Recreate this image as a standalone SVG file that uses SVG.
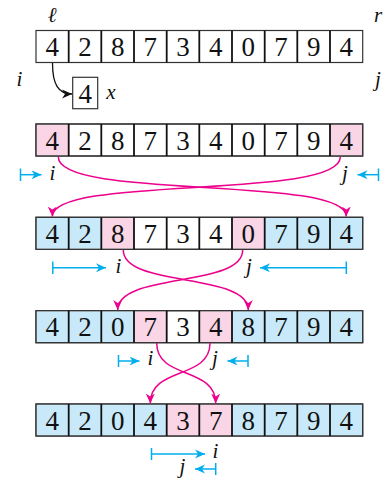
<svg xmlns="http://www.w3.org/2000/svg" width="390" height="479" viewBox="0 0 390 479">
<style>
.cell{stroke:#333;stroke-width:1.2}
.w{fill:#ffffff}.p{fill:#f9d5e5}.b{fill:#c8e9f9}
.div{stroke:#111;stroke-width:1.8}
.num{font-family:'Liberation Serif','Times New Roman',serif;font-size:27px;text-anchor:middle;fill:#111}
.lab{font-family:'Liberation Serif','Times New Roman',serif;font-style:italic;font-size:21px;fill:#111;text-anchor:middle}
.mag{fill:none;stroke:#ec008c;stroke-width:1.5;marker-end:url(#ah-mag)}
.blu{fill:none;stroke:#00aeef;stroke-width:1.5}
.bla{fill:none;stroke:#111;stroke-width:1.3;marker-end:url(#ah-blk)}
</style>
<defs>
<marker id="ah-mag" markerUnits="userSpaceOnUse" markerWidth="11" markerHeight="10" refX="10" refY="5" orient="auto" viewBox="0 0 11 10"><path d="M0,0.5 L10,5 L0,9.5 L3,5 z" fill="#ec008c"/></marker>
<marker id="ah-blu" markerUnits="userSpaceOnUse" markerWidth="11" markerHeight="10" refX="10" refY="5" orient="auto" viewBox="0 0 11 10"><path d="M0,0.5 L10,5 L0,9.5 L3,5 z" fill="#00aeef"/></marker>
<marker id="ah-blk" markerUnits="userSpaceOnUse" markerWidth="11" markerHeight="10" refX="10" refY="5" orient="auto" viewBox="0 0 11 10"><path d="M0,0.5 L10,5 L0,9.5 L3,5 z" fill="#111"/></marker>
</defs>

<!-- Row 1 -->
<g id="row1">
<rect class="cell w" x="36" y="30.5" width="326.7" height="32"/>
<g class="div"><line x1="68.7" y1="30.5" x2="68.7" y2="62.5"/><line x1="101.3" y1="30.5" x2="101.3" y2="62.5"/><line x1="134" y1="30.5" x2="134" y2="62.5"/><line x1="166.7" y1="30.5" x2="166.7" y2="62.5"/><line x1="199.3" y1="30.5" x2="199.3" y2="62.5"/><line x1="232" y1="30.5" x2="232" y2="62.5"/><line x1="264.7" y1="30.5" x2="264.7" y2="62.5"/><line x1="297.3" y1="30.5" x2="297.3" y2="62.5"/><line x1="330" y1="30.5" x2="330" y2="62.5"/></g>
<g class="num" font-family="Liberation Serif, serif"><text x="52.3" y="56">4</text><text x="85" y="56">2</text><text x="117.7" y="56">8</text><text x="150.3" y="56">7</text><text x="183" y="56">3</text><text x="215.7" y="56">4</text><text x="248.3" y="56">0</text><text x="281" y="56">7</text><text x="313.7" y="56">9</text><text x="346.3" y="56">4</text></g>
</g>
<g id="pivot">
<rect class="cell w" x="72.7" y="77.3" width="25" height="31.4"/>
<text class="num" font-family="Liberation Serif, serif" x="85.2" y="102.5">4</text>
<text class="lab" font-family="Liberation Serif, serif" x="111" y="99">x</text>
</g>
<g id="labels1" font-family="Liberation Serif, serif">
<text class="lab" x="52" y="22" font-size="16">ℓ</text>
<text class="lab" x="378" y="22">r</text>
<text class="lab" x="19.5" y="86">i</text>
<text class="lab" x="378" y="86">j</text>
</g>

<!-- Row 2 -->
<g id="row2">
<rect class="cell w" x="36" y="124" width="326.7" height="32"/>
<rect class="p" x="36.6" y="124.6" width="32.1" height="30.8"/>
<rect class="p" x="330" y="124.6" width="32.1" height="30.8"/>
<rect fill="none" stroke="#333" stroke-width="1.2" x="36" y="124" width="326.7" height="32"/>
<g class="div"><line x1="68.7" y1="124" x2="68.7" y2="156"/><line x1="101.3" y1="124" x2="101.3" y2="156"/><line x1="134" y1="124" x2="134" y2="156"/><line x1="166.7" y1="124" x2="166.7" y2="156"/><line x1="199.3" y1="124" x2="199.3" y2="156"/><line x1="232" y1="124" x2="232" y2="156"/><line x1="264.7" y1="124" x2="264.7" y2="156"/><line x1="297.3" y1="124" x2="297.3" y2="156"/><line x1="330" y1="124" x2="330" y2="156"/></g>
<g class="num" font-family="Liberation Serif, serif"><text x="52.3" y="149.5">4</text><text x="85" y="149.5">2</text><text x="117.7" y="149.5">8</text><text x="150.3" y="149.5">7</text><text x="183" y="149.5">3</text><text x="215.7" y="149.5">4</text><text x="248.3" y="149.5">0</text><text x="281" y="149.5">7</text><text x="313.7" y="149.5">9</text><text x="346.3" y="149.5">4</text></g>
</g>

<!-- Row 3 -->
<g id="row3">
<rect class="cell w" x="36" y="217.3" width="326.7" height="32"/>
<rect class="b" x="36.6" y="217.9" width="64.7" height="30.8"/>
<rect class="p" x="101.3" y="217.9" width="32.7" height="30.8"/>
<rect class="p" x="232" y="217.9" width="32.7" height="30.8"/>
<rect class="b" x="264.7" y="217.9" width="97.4" height="30.8"/>
<rect fill="none" stroke="#333" stroke-width="1.2" x="36" y="217.3" width="326.7" height="32"/>
<g class="div"><line x1="68.7" y1="217.3" x2="68.7" y2="249.3"/><line x1="101.3" y1="217.3" x2="101.3" y2="249.3"/><line x1="134" y1="217.3" x2="134" y2="249.3"/><line x1="166.7" y1="217.3" x2="166.7" y2="249.3"/><line x1="199.3" y1="217.3" x2="199.3" y2="249.3"/><line x1="232" y1="217.3" x2="232" y2="249.3"/><line x1="264.7" y1="217.3" x2="264.7" y2="249.3"/><line x1="297.3" y1="217.3" x2="297.3" y2="249.3"/><line x1="330" y1="217.3" x2="330" y2="249.3"/></g>
<g class="num" font-family="Liberation Serif, serif"><text x="52.3" y="242.8">4</text><text x="85" y="242.8">2</text><text x="117.7" y="242.8">8</text><text x="150.3" y="242.8">7</text><text x="183" y="242.8">3</text><text x="215.7" y="242.8">4</text><text x="248.3" y="242.8">0</text><text x="281" y="242.8">7</text><text x="313.7" y="242.8">9</text><text x="346.3" y="242.8">4</text></g>
</g>

<!-- Row 4 -->
<g id="row4">
<rect class="cell w" x="36" y="310.7" width="326.7" height="32"/>
<rect class="b" x="36.6" y="311.3" width="97.4" height="30.8"/>
<rect class="p" x="134" y="311.3" width="32.7" height="30.8"/>
<rect class="p" x="199.3" y="311.3" width="32.7" height="30.8"/>
<rect class="b" x="232" y="311.3" width="130.1" height="30.8"/>
<rect fill="none" stroke="#333" stroke-width="1.2" x="36" y="310.7" width="326.7" height="32"/>
<g class="div"><line x1="68.7" y1="310.7" x2="68.7" y2="342.7"/><line x1="101.3" y1="310.7" x2="101.3" y2="342.7"/><line x1="134" y1="310.7" x2="134" y2="342.7"/><line x1="166.7" y1="310.7" x2="166.7" y2="342.7"/><line x1="199.3" y1="310.7" x2="199.3" y2="342.7"/><line x1="232" y1="310.7" x2="232" y2="342.7"/><line x1="264.7" y1="310.7" x2="264.7" y2="342.7"/><line x1="297.3" y1="310.7" x2="297.3" y2="342.7"/><line x1="330" y1="310.7" x2="330" y2="342.7"/></g>
<g class="num" font-family="Liberation Serif, serif"><text x="52.3" y="336.2">4</text><text x="85" y="336.2">2</text><text x="117.7" y="336.2">0</text><text x="150.3" y="336.2">7</text><text x="183" y="336.2">3</text><text x="215.7" y="336.2">4</text><text x="248.3" y="336.2">8</text><text x="281" y="336.2">7</text><text x="313.7" y="336.2">9</text><text x="346.3" y="336.2">4</text></g>
</g>

<!-- Row 5 -->
<g id="row5">
<rect class="cell w" x="36" y="404" width="326.7" height="32"/>
<rect class="b" x="36.6" y="404.6" width="130.1" height="30.8"/>
<rect class="p" x="166.7" y="404.6" width="65.3" height="30.8"/>
<rect class="b" x="232" y="404.6" width="130.1" height="30.8"/>
<rect fill="none" stroke="#333" stroke-width="1.2" x="36" y="404" width="326.7" height="32"/>
<g class="div"><line x1="68.7" y1="404" x2="68.7" y2="436"/><line x1="101.3" y1="404" x2="101.3" y2="436"/><line x1="134" y1="404" x2="134" y2="436"/><line x1="166.7" y1="404" x2="166.7" y2="436"/><line x1="199.3" y1="404" x2="199.3" y2="436"/><line x1="232" y1="404" x2="232" y2="436"/><line x1="264.7" y1="404" x2="264.7" y2="436"/><line x1="297.3" y1="404" x2="297.3" y2="436"/><line x1="330" y1="404" x2="330" y2="436"/></g>
<g class="num" font-family="Liberation Serif, serif"><text x="52.3" y="429.5">4</text><text x="85" y="429.5">2</text><text x="117.7" y="429.5">0</text><text x="150.3" y="429.5">4</text><text x="183" y="429.5">3</text><text x="215.7" y="429.5">7</text><text x="248.3" y="429.5">8</text><text x="281" y="429.5">7</text><text x="313.7" y="429.5">9</text><text x="346.3" y="429.5">4</text></g>
</g>

<!-- index labels -->
<g id="labels" font-family="Liberation Serif, serif">
<text class="lab" x="52.5" y="179.5">i</text>
<text class="lab" x="345" y="179.5">j</text>
<text class="lab" x="118.5" y="273">i</text>
<text class="lab" x="249" y="273">j</text>
<text class="lab" x="150.5" y="365">i</text>
<text class="lab" x="215" y="365">j</text>
<text class="lab" x="215.5" y="458">i</text>
<text class="lab" x="182.5" y="473">j</text>
</g>

<!-- connectors -->
<g id="connectors">
<path class="bla" d="M52.5,63 C52.5,84 58,94 72,94"/>
<path class="mag" d="M58.3,157 C58.3,200 346.3,175 346.3,216.5"/>
<path class="mag" d="M340.3,157 C340.3,200 52.3,175 52.3,216.5"/>
<path class="mag" d="M123.3,250 C123.3,288 248.3,272 248.3,310"/>
<path class="mag" d="M242.7,250 C242.7,288 117.7,272 117.7,310"/>
<path class="mag" d="M156.7,343 C156.7,380 215.7,366 215.7,403.5"/>
<path class="mag" d="M210,343 C210,380 150.3,366 150.3,403.5"/>
<g class="blu">
<line x1="20.5" y1="168.5" x2="20.5" y2="181"/><line x1="20.5" y1="174.7" x2="41.5" y2="174.7" marker-end="url(#ah-blu)"/>
<line x1="378.5" y1="168.5" x2="378.5" y2="181"/><line x1="378.5" y1="174.7" x2="357.5" y2="174.7" marker-end="url(#ah-blu)"/>
<line x1="52.8" y1="261.5" x2="52.8" y2="274"/><line x1="52.8" y1="267.8" x2="106" y2="267.8" marker-end="url(#ah-blu)"/>
<line x1="346.3" y1="261.5" x2="346.3" y2="274"/><line x1="346.3" y1="267.8" x2="260" y2="267.8" marker-end="url(#ah-blu)"/>
<line x1="118.5" y1="355" x2="118.5" y2="367"/><line x1="118.5" y1="361" x2="139.5" y2="361" marker-end="url(#ah-blu)"/>
<line x1="248" y1="355" x2="248" y2="367"/><line x1="248" y1="361" x2="227.5" y2="361" marker-end="url(#ah-blu)"/>
<line x1="151.5" y1="448" x2="151.5" y2="460"/><line x1="151.5" y1="454" x2="205" y2="454" marker-end="url(#ah-blu)"/>
<line x1="215.7" y1="463" x2="215.7" y2="475"/><line x1="215.7" y1="469" x2="195" y2="469" marker-end="url(#ah-blu)"/>
</g>
</g>
</svg>
